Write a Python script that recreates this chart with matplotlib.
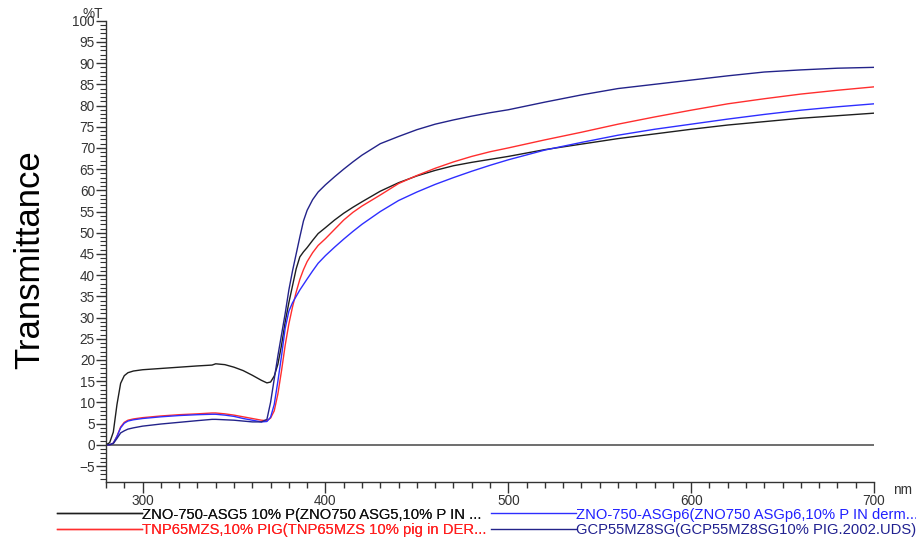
import matplotlib
matplotlib.use("Agg")
import matplotlib.pyplot as plt
from matplotlib.ticker import MultipleLocator

plt.rcParams['font.family'] = ['Liberation Sans', 'DejaVu Sans']

wavelength = [280, 282, 284, 286, 288, 290, 292, 295, 300, 310, 320, 330, 338, 340,
              345, 350, 355, 360, 365, 368, 370, 372, 374, 376, 378, 380, 382, 384,
              386, 388, 390, 393, 396, 400, 405, 410, 415, 420, 430, 440, 450, 460,
              470, 480, 490, 500, 520, 540, 560, 580, 600, 620, 640, 660, 680, 700]

zno_asg5 = [0, 0.5, 3.0, 9.5, 14.5, 16.3, 17.0, 17.4, 17.7, 18.0, 18.3, 18.6, 18.8, 19.1,
            18.9, 18.3, 17.5, 16.4, 15.2, 14.6, 14.8, 16.2, 19.0, 23.5, 29.0, 33.5, 37.5, 41.5,
            44.3, 45.5, 46.5, 48.2, 49.8, 51.2, 53.0, 54.6, 56.0, 57.3, 59.8, 61.8, 63.4, 64.7,
            65.8, 66.6, 67.3, 68.0, 69.6, 70.9, 72.2, 73.3, 74.4, 75.4, 76.2, 77.0, 77.6, 78.2]

tnp65mzs = [0, 0, 0.4, 2.0, 4.2, 5.3, 5.8, 6.1, 6.4, 6.8, 7.1, 7.3, 7.5, 7.5,
            7.3, 7.0, 6.6, 6.2, 5.8, 5.7, 6.3, 8.0, 12.0, 17.5, 23.5, 28.5, 32.5, 36.0,
            39.0, 41.3, 43.2, 45.3, 47.0, 48.6, 50.8, 53.0, 54.8, 56.3, 58.9, 61.6, 63.5, 65.2,
            66.7, 68.0, 69.1, 70.0, 71.9, 73.7, 75.6, 77.3, 78.9, 80.4, 81.6, 82.7, 83.6, 84.4]

zno_asgp6 = [0, 0, 0.4, 2.0, 4.0, 5.1, 5.6, 5.9, 6.2, 6.6, 6.9, 7.1, 7.2, 7.2,
             7.0, 6.7, 6.2, 5.8, 5.4, 5.5, 6.5, 9.5, 15.0, 21.0, 27.5, 31.5, 33.5, 35.0,
             36.5, 37.8, 39.1, 41.0, 42.8, 44.6, 46.6, 48.5, 50.3, 52.0, 55.0, 57.6, 59.6, 61.4,
             63.0, 64.5, 65.9, 67.2, 69.5, 71.3, 73.0, 74.4, 75.6, 76.8, 77.9, 78.9, 79.7, 80.4]

gcp55mz8sg = [0, 0, 0.3, 1.5, 2.8, 3.3, 3.7, 4.0, 4.4, 4.9, 5.3, 5.7, 6.0, 6.0,
              5.9, 5.8, 5.6, 5.4, 5.4, 6.0, 10.0, 15.5, 21.0, 26.0, 31.0, 36.5, 41.0, 45.0,
              49.0, 52.8, 55.3, 57.8, 59.6, 61.3, 63.2, 65.0, 66.7, 68.3, 71.0, 72.7, 74.3, 75.6,
              76.6, 77.5, 78.3, 79.0, 80.8, 82.5, 84.0, 85.0, 86.0, 87.0, 87.9, 88.4, 88.8, 89.0]

labels = ["ZNO-750-ASG5 10% P(ZNO750 ASG5,10% P IN ...",
          "TNP65MZS,10% PIG(TNP65MZS 10% pig in DER...",
          "ZNO-750-ASGp6(ZNO750 ASGp6,10% P IN derm...",
          "GCP55MZ8SG(GCP55MZ8SG10% PIG.2002.UDS)"]
colors = ["#1e1e1e", "#ff2e2e", "#2e2eff", "#23238a"]
text_colors = ["#111111", "#ff2020", "#2020ff", "#202090"]
series = [zno_asg5, tnp65mzs, zno_asgp6, gcp55mz8sg]

W, H = 916, 539
fig = plt.figure(figsize=(W / 100, H / 100), dpi=100)
ax = fig.add_axes([106 / W, 1 - 481.7 / H, (874 - 106) / W, (481.7 - 20.7) / H])

ax.axhline(0, color="#555555", lw=1.2, zorder=1)
handles = []
for ys, c, lab in zip(series, colors, labels):
    h, = ax.plot(wavelength, ys, color=c, lw=1.0, label=lab, zorder=2)
    handles.append(h)

ax.set_xlim(280, 700)
ax.set_ylim(-8.7, 100)
for s in ["top", "right"]:
    ax.spines[s].set_visible(False)
for s in ["left", "bottom"]:
    ax.spines[s].set_color("#333333")
    ax.spines[s].set_linewidth(1.0)

ax.xaxis.set_major_locator(MultipleLocator(100))
ax.xaxis.set_minor_locator(MultipleLocator(10))
ax.yaxis.set_major_locator(MultipleLocator(5))
ax.yaxis.set_minor_locator(MultipleLocator(1))
ax.set_yticks(list(range(-5, 101, 5)))
ax.tick_params(axis="x", which="major", length=8, width=1, color="#333333",
               labelsize=9.8, labelcolor="#333333", pad=0.5)
ax.tick_params(axis="x", which="minor", length=4.5, width=1, color="#333333")
ax.tick_params(axis="y", which="major", length=7, width=1, color="#333333",
               labelsize=9.8, labelcolor="#333333", pad=1)
ax.tick_params(axis="y", which="minor", length=4, width=0.8, color="#333333")

fig.text(93 / W, 1 - 14 / H, "%T", ha="center", va="center", fontsize=9.8, color="#333333")
fig.text(903 / W, 1 - 490 / H, "nm", ha="center", va="center", fontsize=9.8, color="#333333")
fig.text(30 / W, 1 - 260 / H, "Transmittance", rotation=90, ha="center", va="center",
         fontsize=25, color="black")

fs = 10.6
hl = 85 / (fs * 100 / 72)
leg1 = fig.legend(handles[:2], labels[:2], loc="upper left",
                  bbox_to_anchor=(57 / W, 1 - 507.5 / H), frameon=False, fontsize=fs,
                  handlelength=hl, handletextpad=0, labelspacing=0.08, borderpad=0,
                  borderaxespad=0, labelcolor=text_colors[:2])
leg2 = fig.legend(handles[2:], labels[2:], loc="upper left",
                  bbox_to_anchor=(491 / W, 1 - 507.5 / H), frameon=False, fontsize=fs,
                  handlelength=hl, handletextpad=0, labelspacing=0.08, borderpad=0,
                  borderaxespad=0, labelcolor=text_colors[2:])
fig.add_artist(leg1)

fig.savefig("out.png", dpi=100)
